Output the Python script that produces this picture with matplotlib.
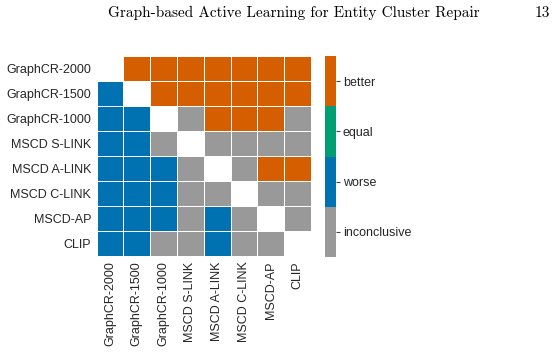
import numpy as np
import matplotlib
matplotlib.use('Agg')
import matplotlib.pyplot as plt
from matplotlib.colors import ListedColormap, BoundaryNorm

methods = ['GraphCR-2000', 'GraphCR-1500', 'GraphCR-1000', 'MSCD S-LINK',
           'MSCD A-LINK', 'MSCD C-LINK', 'MSCD-AP', 'CLIP']
outcomes = ['inconclusive', 'worse', 'equal', 'better']
outcome_colors = ['#999999', '#0072B2', '#009E73', '#D55E00']

# row method compared to column method: b=better, w=worse, e=equal, i=inconclusive, -=self
comparison = [
    '-bbbbbbb',
    'w-bbbbbb',
    'ww-ibbbi',
    'wwi-iiii',
    'wwwi-ibb',
    'wwwii-ii',
    'wwwiwi-i',
    'wwiiwii-',
]

code = {'i': 0, 'w': 1, 'e': 2, 'b': 3}
mat = np.array([[code.get(c, np.nan) for c in row] for row in comparison], dtype=float)
mat = np.ma.masked_invalid(mat)

cmap = ListedColormap(outcome_colors)
norm = BoundaryNorm([-0.5, 0.5, 1.5, 2.5, 3.5], cmap.N)

plt.rcParams['font.family'] = ['Liberation Sans', 'DejaVu Sans']
fig = plt.figure(figsize=(5.59, 3.53), dpi=100)
ax = fig.add_axes([0.173, 0.275, 0.383, 0.566])
mesh = ax.pcolormesh(mat, cmap=cmap, norm=norm, edgecolors='white', linewidth=0.7)
ax.set_xlim(0, len(methods))
ax.set_ylim(len(methods), 0)
ax.set_xticks(np.arange(len(methods)) + 0.5)
ax.set_yticks(np.arange(len(methods)) + 0.5)
ax.set_xticklabels(methods, rotation=90, fontsize=9, color='#262626')
ax.set_yticklabels(methods, fontsize=9, color='#262626')
ax.tick_params(length=0, pad=4)
for s in ax.spines.values():
    s.set_visible(False)

cax = fig.add_axes([0.581, 0.272, 0.0197, 0.569])
cb = fig.colorbar(mesh, cax=cax, ticks=[0, 1, 2, 3])
cb.set_ticklabels(outcomes)
cb.minorticks_off()
cb.outline.set_visible(False)
cax.tick_params(which='minor', length=0)
cax.tick_params(labelsize=9, length=3, width=0.8, color='#444444', labelcolor='#262626', pad=2)

fig.text(0.525, 0.963, 'Graph-based Active Learning for Entity Cluster Repair',
         family='cmr10', fontsize=11, ha='center', va='center')
fig.text(0.97, 0.963, '13', family='cmr10', fontsize=11, ha='center', va='center')

plt.savefig('out.png', dpi=100)
